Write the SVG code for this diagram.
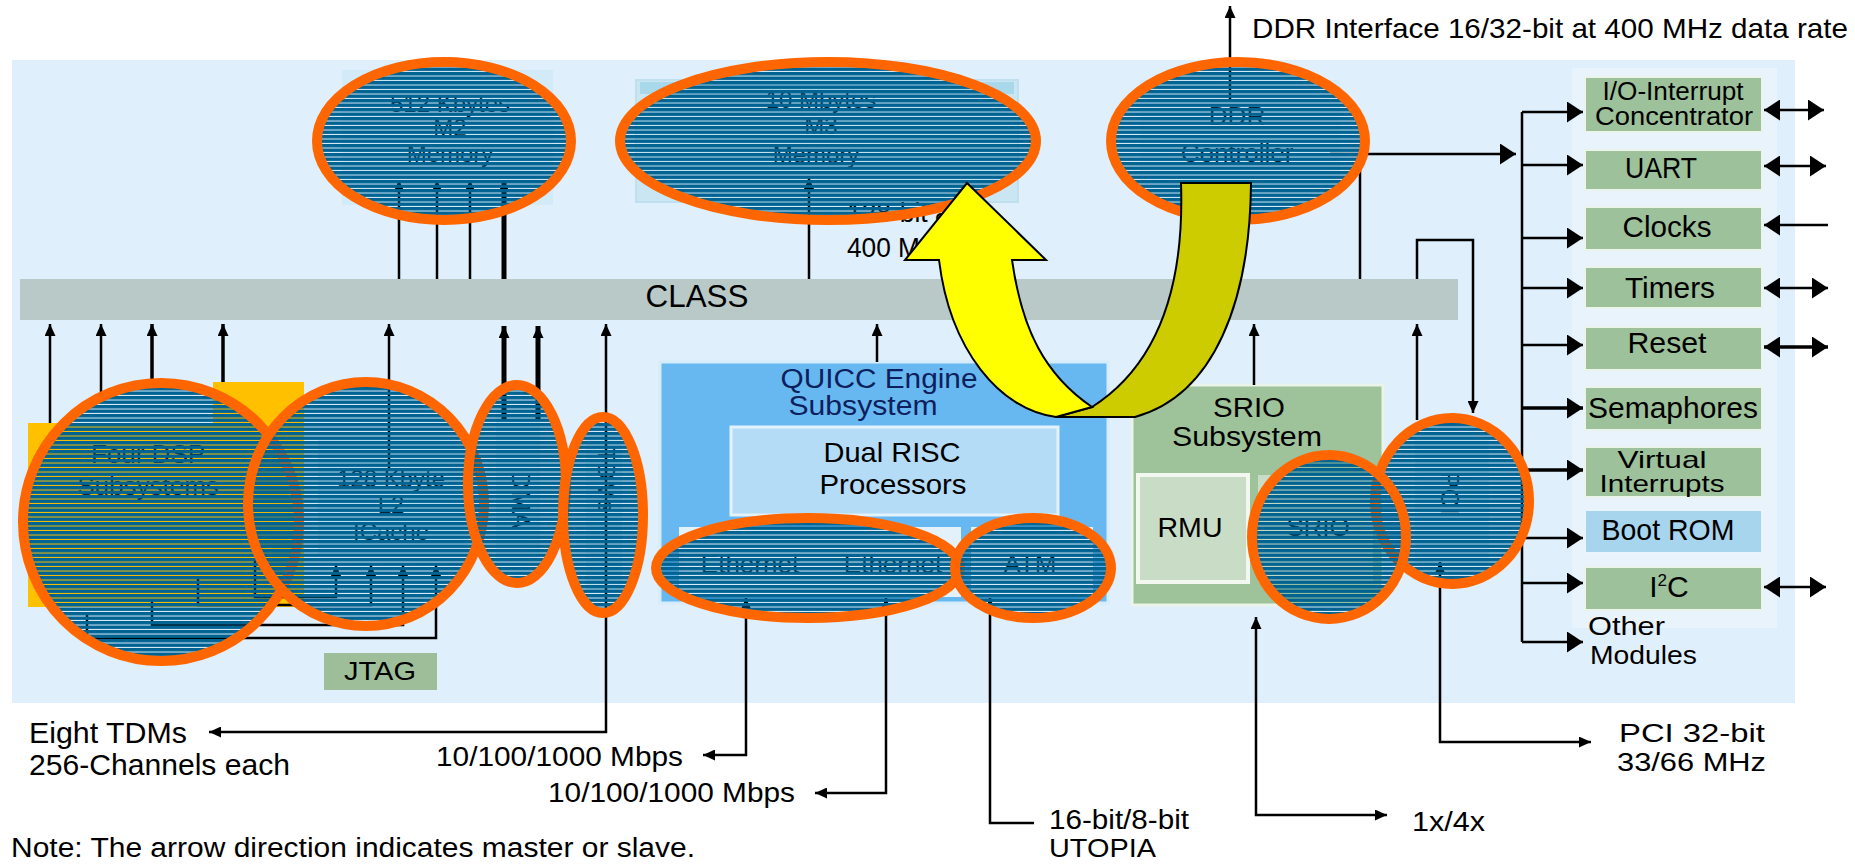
<svg xmlns="http://www.w3.org/2000/svg" width="1855" height="864" viewBox="0 0 1855 864">
<defs>
<style>
text{font-family:"Liberation Sans",Arial,sans-serif;fill:#000}
.ln{stroke:#000;stroke-width:2.5;fill:none}
.thk{stroke-width:5}
.med{stroke-width:3.5}
.hl{fill:url(#stripes);stroke:#FF6600;stroke-width:10}
.grn{fill:#9DC19A;stroke:#EAF4EA;stroke-width:2}
.hid{fill:#0B2236}
</style>
<pattern id="stripes" patternUnits="userSpaceOnUse" width="40" height="4.5"><rect width="40" height="3.5" fill="#006392"/></pattern>
<marker id="a" viewBox="0 0 10 10" refX="10" refY="5" markerWidth="12" markerHeight="11" markerUnits="userSpaceOnUse" orient="auto-start-reverse" preserveAspectRatio="none"><path d="M0,0L10,5L0,10Z" fill="#000"/></marker>
<marker id="b" viewBox="0 0 10 10" refX="10" refY="5" markerWidth="16" markerHeight="21" markerUnits="userSpaceOnUse" orient="auto-start-reverse" preserveAspectRatio="none"><path d="M0,0L10,5L0,10Z" fill="#000"/></marker>
</defs>

<rect width="1855" height="864" fill="#FFFFFF"/>
<rect id="panel" x="12" y="60" width="1783" height="643" fill="#DFEFFB"/>
<rect x="1572" y="68" width="205" height="560" fill="#E8F3FC"/>

<g id="m2-memory">
<rect x="342" y="70" width="211" height="135" fill="#D3EAF8"/>
<text class="hid" x="450" y="112" font-size="24" text-anchor="middle">512 Kbytes</text>
<text class="hid" x="450" y="136" font-size="24" text-anchor="middle">M2</text>
<text class="hid" x="450" y="162" font-size="24" text-anchor="middle">Memory</text>
</g>
<g id="m3-memory">
<rect x="636" y="80" width="382" height="122" fill="#CBE6F3" stroke="#BFE0EE" stroke-width="2"/>
<rect x="640" y="82" width="374" height="12" fill="#A9D8EA"/>
<text class="hid" x="821" y="108" font-size="24" text-anchor="middle">10 Mbytes</text>
<text class="hid" x="821" y="134" font-size="24" text-anchor="middle">M3</text>
<text class="hid" x="816" y="163" font-size="24" text-anchor="middle">Memory</text>
</g>
<g id="ddr-controller">
<rect x="1140" y="80" width="200" height="120" fill="#D3EAF8"/>
<text class="hid" x="1237" y="125" font-size="26" text-anchor="middle">DDR</text>
<text class="hid" x="1237" y="162" font-size="26" text-anchor="middle">Controller</text>
</g>
<g id="bus-label">
<text x="1252" y="38" font-size="28" textLength="596" lengthAdjust="spacingAndGlyphs">DDR Interface 16/32-bit at 400 MHz data rate</text>
<text x="847" y="222" font-size="28" textLength="110" lengthAdjust="spacingAndGlyphs">128-bit at</text>
<text x="847" y="257" font-size="28" textLength="105" lengthAdjust="spacingAndGlyphs">400 MHz</text>
</g>

<g id="class">
<rect x="20" y="279" width="1438" height="41" fill="#B8C9C8"/>
<text x="697" y="307" font-size="32" text-anchor="middle" textLength="103" lengthAdjust="spacingAndGlyphs">CLASS</text>
</g>

<g id="dsp-subsystems">
<rect x="213" y="382" width="91" height="190" fill="#FFC000"/>
<rect x="28" y="423" width="276" height="184" fill="#FFC000"/>
<text class="hid" x="148" y="463" font-size="26" text-anchor="middle">Four DSP</text>
<text class="hid" x="148" y="495" font-size="26" text-anchor="middle">Subsystems</text>
</g>
<g id="l2-icache">
<rect x="318" y="440" width="150" height="115" fill="#BFE2F4"/>
<text class="hid" x="391" y="487" font-size="24" text-anchor="middle">128 Kbyte</text>
<text class="hid" x="391" y="513" font-size="24" text-anchor="middle">L2</text>
<text class="hid" x="391" y="540" font-size="24" text-anchor="middle">ICache</text>
</g>
<g id="dma">
<rect x="496" y="410" width="44" height="150" fill="#C6E4F5"/>
<text class="hid" transform="translate(521,500) rotate(90)" font-size="26" text-anchor="middle" y="9">DMA</text>
</g>
<g id="tdms">
<rect x="586" y="440" width="36" height="150" fill="#C6E4F5"/>
<text class="hid" transform="translate(606,480) rotate(90)" font-size="24" text-anchor="middle" y="8">TDMs</text>
</g>
<g id="jtag">
<rect x="324" y="653" width="113" height="37" fill="#9DBE98"/>
<text x="380" y="680" font-size="25" text-anchor="middle" textLength="72" lengthAdjust="spacingAndGlyphs">JTAG</text>
</g>

<g id="quicc-engine">
<rect x="660" y="362" width="448" height="241" fill="#67B8F1" stroke="#D6ECFA" stroke-width="3"/>
<text x="879" y="388" font-size="27" text-anchor="middle" textLength="197" lengthAdjust="spacingAndGlyphs" style="fill:#0D1F5C">QUICC Engine</text>
<text x="863" y="415" font-size="27" text-anchor="middle" textLength="149" lengthAdjust="spacingAndGlyphs" style="fill:#0D1F5C">Subsystem</text>
</g>
<g id="dual-risc">
<rect x="731" y="427" width="327" height="88" fill="#B5DCF7" stroke="#E3F2FC" stroke-width="3"/>
<text x="892" y="462" font-size="28" text-anchor="middle" textLength="137" lengthAdjust="spacingAndGlyphs">Dual RISC</text>
<text x="893" y="494" font-size="28" text-anchor="middle" textLength="147" lengthAdjust="spacingAndGlyphs">Processors</text>
</g>
<g id="ethernet-1">
<rect x="679" y="527" width="141" height="70" fill="#E3F1FB"/>
<text class="hid" x="750" y="573" font-size="26" text-anchor="middle">Ethernet</text>
</g>
<g id="ethernet-2">
<rect x="820" y="527" width="141" height="70" fill="#E3F1FB"/>
<text class="hid" x="893" y="573" font-size="26" text-anchor="middle">Ethernet</text>
</g>
<g id="atm">
<rect x="971" y="527" width="122" height="70" fill="#E3F1FB"/>
<text class="hid" x="1030" y="573" font-size="26" text-anchor="middle">ATM</text>
</g>

<g id="srio-subsystem">
<rect x="1132" y="385" width="251" height="220" fill="#9EC29A" stroke="#EAF4EA" stroke-width="3"/>
<text x="1249" y="417" font-size="27" text-anchor="middle" textLength="72" lengthAdjust="spacingAndGlyphs">SRIO</text>
<text x="1247" y="446" font-size="27" text-anchor="middle" textLength="150" lengthAdjust="spacingAndGlyphs">Subsystem</text>
</g>
<g id="rmu">
<rect x="1138" y="475" width="110" height="107" fill="#C9DCC6" stroke="#F2F8F0" stroke-width="4"/>
<text x="1190" y="537" font-size="28" text-anchor="middle" textLength="65" lengthAdjust="spacingAndGlyphs">RMU</text>
</g>
<g id="srio">
<rect x="1258" y="475" width="115" height="107" fill="#C9DCC6"/>
<text class="hid" x="1318" y="536" font-size="26" text-anchor="middle">SRIO</text>
</g>
<g id="pci">
<rect x="1415" y="440" width="74" height="125" fill="#C6E4F5"/>
<text class="hid" transform="translate(1450,493) rotate(90)" font-size="26" text-anchor="middle" y="9">PCI</text>
</g>

<g id="io-interrupt">
<rect class="grn" x="1585" y="77" width="177" height="55"/>
<text x="1673" y="100" font-size="25" text-anchor="middle" textLength="141" lengthAdjust="spacingAndGlyphs">I/O-Interrupt</text>
<text x="1674" y="125" font-size="25" text-anchor="middle" textLength="158" lengthAdjust="spacingAndGlyphs">Concentrator</text>
</g>
<g id="uart">
<rect class="grn" x="1585" y="150" width="177" height="40"/>
<text x="1661" y="178" font-size="30" text-anchor="middle" textLength="72" lengthAdjust="spacingAndGlyphs">UART</text>
</g>
<g id="clocks">
<rect class="grn" x="1585" y="207" width="177" height="43"/>
<text x="1667" y="237" font-size="30" text-anchor="middle" textLength="89" lengthAdjust="spacingAndGlyphs">Clocks</text>
</g>
<g id="timers">
<rect class="grn" x="1585" y="267" width="177" height="41"/>
<text x="1670" y="298" font-size="30" text-anchor="middle" textLength="90" lengthAdjust="spacingAndGlyphs">Timers</text>
</g>
<g id="reset">
<rect class="grn" x="1585" y="327" width="177" height="43"/>
<text x="1667" y="353" font-size="30" text-anchor="middle" textLength="79" lengthAdjust="spacingAndGlyphs">Reset</text>
</g>
<g id="semaphores">
<rect class="grn" x="1585" y="387" width="177" height="43"/>
<text x="1673" y="418" font-size="30" text-anchor="middle" textLength="170" lengthAdjust="spacingAndGlyphs">Semaphores</text>
</g>
<g id="virtual-interrupts">
<rect class="grn" x="1585" y="447" width="177" height="50"/>
<text x="1662" y="468" font-size="24" text-anchor="middle" textLength="89" lengthAdjust="spacingAndGlyphs">Virtual</text>
<text x="1662" y="492" font-size="24" text-anchor="middle" textLength="125" lengthAdjust="spacingAndGlyphs">Interrupts</text>
</g>
<g id="boot-rom">
<rect x="1585" y="510" width="177" height="43" fill="#A8D5EE" stroke="#EAF4FC" stroke-width="2"/>
<text x="1668" y="540" font-size="29" text-anchor="middle" textLength="133" lengthAdjust="spacingAndGlyphs">Boot ROM</text>
</g>
<g id="i2c">
<rect class="grn" x="1585" y="567" width="177" height="43"/>
<text x="1669" y="597" font-size="30" text-anchor="middle">I<tspan font-size="17" dy="-11">2</tspan><tspan dy="11">C</tspan></text>
</g>
<g id="other-modules">
<text x="1588" y="635" font-size="25" textLength="77" lengthAdjust="spacingAndGlyphs">Other</text>
<text x="1590" y="664" font-size="25" textLength="107" lengthAdjust="spacingAndGlyphs">Modules</text>
</g>

<g id="io-labels">
<text x="29" y="743" font-size="29" textLength="158" lengthAdjust="spacingAndGlyphs">Eight TDMs</text>
<text x="29" y="775" font-size="29" textLength="261" lengthAdjust="spacingAndGlyphs">256-Channels each</text>
<text x="436" y="766" font-size="28" textLength="247" lengthAdjust="spacingAndGlyphs">10/100/1000 Mbps</text>
<text x="548" y="802" font-size="28" textLength="247" lengthAdjust="spacingAndGlyphs">10/100/1000 Mbps</text>
<text x="1049" y="829" font-size="27" textLength="140" lengthAdjust="spacingAndGlyphs">16-bit/8-bit</text>
<text x="1049" y="857" font-size="26" textLength="107" lengthAdjust="spacingAndGlyphs">UTOPIA</text>
<text x="1412" y="831" font-size="28" textLength="73" lengthAdjust="spacingAndGlyphs">1x/4x</text>
<text x="1619" y="742" font-size="25" textLength="146" lengthAdjust="spacingAndGlyphs">PCI 32-bit</text>
<text x="1617" y="771" font-size="25" textLength="149" lengthAdjust="spacingAndGlyphs">33/66 MHz</text>
<text x="11" y="857" font-size="27" textLength="684" lengthAdjust="spacingAndGlyphs">Note: The arrow direction indicates master or slave.</text>
</g>

<g id="connectors">
<path class="ln" d="M50 423V324" marker-end="url(#a)"/>
<path class="ln" d="M101 400V324" marker-end="url(#a)"/>
<path class="ln med" d="M152 385V324" marker-end="url(#a)"/>
<path class="ln med" d="M223 382V324" marker-end="url(#a)"/>
<path class="ln" d="M389 470V324" marker-end="url(#a)"/>
<path class="ln thk" d="M504 420V326" marker-end="url(#a)"/>
<path class="ln thk" d="M538 420V326" marker-end="url(#a)"/>
<path class="ln" d="M209 732H606V324" marker-start="url(#a)" marker-end="url(#a)"/>
<path class="ln" d="M703 755H746V598" marker-start="url(#a)" marker-end="url(#a)"/>
<path class="ln" d="M815 793H886V598" marker-start="url(#a)" marker-end="url(#a)"/>
<path class="ln" d="M1034 823H990V598" marker-end="url(#a)"/>
<path class="ln" d="M877 362V324" marker-end="url(#a)"/>
<path class="ln" d="M1254 385V324" marker-end="url(#a)"/>
<path class="ln" d="M1256 617V815H1387" marker-start="url(#a)" marker-end="url(#a)"/>
<path class="ln" d="M1417 420V324" marker-end="url(#a)"/>
<path class="ln" d="M1417 279V240H1473V413" marker-end="url(#a)"/>
<path class="ln" d="M1440 562V742H1591" marker-start="url(#a)" marker-end="url(#a)"/>
<path class="ln" d="M255 560V597H336V565" marker-end="url(#a)"/>
<path class="ln" d="M198 577V605H371V565" marker-end="url(#a)"/>
<path class="ln" d="M152 600V625H403V565" marker-end="url(#a)"/>
<path class="ln" d="M87 613V638H436V565" marker-end="url(#a)"/>
<path class="ln" d="M399 279V180" marker-end="url(#a)"/>
<path class="ln" d="M437 279V180" marker-end="url(#a)"/>
<path class="ln" d="M470 279V180" marker-end="url(#a)"/>
<path class="ln thk" d="M504 279V180" marker-end="url(#a)"/>
<path class="ln" d="M809 279V178" marker-end="url(#a)"/>
<path class="ln" d="M1360 279V154"/>
<path class="ln" d="M1330 154H1516" marker-end="url(#b)"/>
<path class="ln" d="M1230 100V6" marker-end="url(#a)"/>
<path class="ln" d="M1522 642V112"/>
<path class="ln" d="M1522 112H1583" marker-end="url(#b)"/>
<path class="ln" d="M1522 165H1583" marker-end="url(#b)"/>
<path class="ln" d="M1522 238H1583" marker-end="url(#b)"/>
<path class="ln" d="M1522 288H1583" marker-end="url(#b)"/>
<path class="ln" d="M1522 345H1583" marker-end="url(#b)"/>
<path class="ln med" d="M1522 408H1583" marker-end="url(#b)"/>
<path class="ln med" d="M1522 470H1583" marker-end="url(#b)"/>
<path class="ln" d="M1522 538H1583" marker-end="url(#b)"/>
<path class="ln" d="M1522 583H1583" marker-end="url(#b)"/>
<path class="ln" d="M1522 642H1583" marker-end="url(#b)"/>
<path class="ln" d="M1764 110H1824" marker-start="url(#b)" marker-end="url(#b)"/>
<path class="ln" d="M1764 166H1826" marker-start="url(#b)" marker-end="url(#b)"/>
<path class="ln" d="M1828 225H1764" marker-end="url(#b)"/>
<path class="ln" d="M1764 288H1828" marker-start="url(#b)" marker-end="url(#b)"/>
<path class="ln med" d="M1764 347H1828" marker-start="url(#b)" marker-end="url(#b)"/>
<path class="ln" d="M1764 587H1826" marker-start="url(#b)" marker-end="url(#b)"/>
</g>

<g id="highlights">
<ellipse class="hl" cx="161" cy="522" rx="138" ry="139"/>
<ellipse class="hl" cx="366" cy="504" rx="118" ry="122"/>
<ellipse class="hl" cx="517" cy="484" rx="49" ry="99"/>
<ellipse class="hl" cx="603" cy="515" rx="40" ry="98"/>
<ellipse class="hl" cx="808" cy="568" rx="152" ry="50"/>
<ellipse class="hl" cx="1033" cy="568" rx="78" ry="50"/>
<ellipse class="hl" cx="1452" cy="501" rx="77" ry="83"/>
<ellipse class="hl" cx="1329" cy="537" rx="77" ry="82"/>
<ellipse class="hl" cx="444" cy="141" rx="127" ry="79"/>
<ellipse class="hl" cx="828" cy="141" rx="208" ry="79"/>
<ellipse class="hl" cx="1238" cy="141" rx="127" ry="79"/>
</g>

<g id="uturn-arrow" stroke="#000" stroke-width="2" stroke-linejoin="miter">
<path d="M1181 183L1251 183C1250 300 1215 395 1135 417L1056 417L1092 407C1150 370 1185 300 1181 183Z" fill="#CCCC00"/>
<path d="M939 260L905 260L967 183L1046 260L1012 260C1022 330 1045 375 1092 407L1056 417C1000 410 950 350 939 260Z" fill="#FFFF00"/>
</g>
</svg>
